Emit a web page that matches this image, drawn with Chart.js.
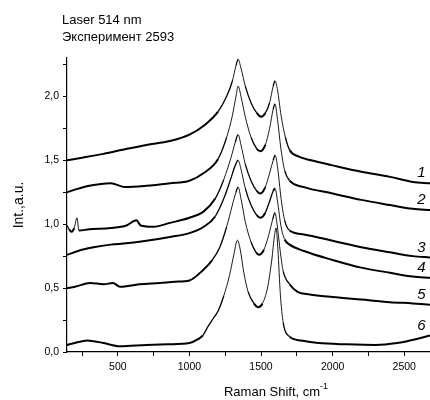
<!DOCTYPE html>
<html>
<head>
<meta charset="utf-8">
<script src="https://cdn.jsdelivr.net/npm/chart.js@4.4.1/dist/chart.umd.min.js"></script>
<style>
html,body{margin:0;padding:0;background:#fff;overflow:hidden;}
</style>
</head>
<body>
<canvas id="raman" width="430" height="400"></canvas>
<script>
// Raman spectra, laser 514 nm, six samples shifted vertically
const headerLines = ['Laser 514 nm', 'Эксперимент 2593'];
const curveNames = ['1', '2', '3', '4', '5', '6'];

const spectrum1 = [[145,1.50],[250,1.52],[400,1.55],[564,1.59],[700,1.62],[864,1.65],[1000,1.70],[1100,1.77],[1200,1.88],[1260,2.00],[1300,2.12],[1325,2.24],[1340,2.29],[1360,2.22],[1390,2.08],[1430,1.95],[1470,1.87],[1500,1.84],[1530,1.87],[1560,1.95],[1585,2.08],[1598,2.12],[1615,2.05],[1640,1.85],[1670,1.68],[1700,1.58],[1760,1.53],[1850,1.50],[2000,1.46],[2200,1.41],[2400,1.37],[2560,1.33],[2680,1.32]];
const spectrum2 = [[145,1.25],[200,1.27],[300,1.30],[450,1.32],[550,1.29],[700,1.30],[864,1.32],[1000,1.34],[1100,1.40],[1200,1.51],[1260,1.68],[1300,1.85],[1325,2.00],[1340,2.08],[1360,2.00],[1390,1.84],[1430,1.68],[1470,1.59],[1495,1.57],[1530,1.62],[1560,1.75],[1585,1.90],[1598,1.94],[1615,1.82],[1640,1.58],[1665,1.42],[1700,1.34],[1800,1.29],[2000,1.24],[2200,1.19],[2400,1.15],[2560,1.12],[2680,1.11]];
const spectrum3 = [[145,0.99],[160,0.96],[175,0.94],[195,0.97],[215,1.05],[228,0.95],[300,0.96],[450,0.97],[560,0.99],[630,1.03],[660,0.99],[750,0.98],[864,1.01],[1000,1.05],[1100,1.10],[1180,1.20],[1240,1.35],[1290,1.52],[1320,1.64],[1340,1.70],[1360,1.62],[1390,1.47],[1430,1.34],[1470,1.26],[1495,1.24],[1530,1.29],[1560,1.40],[1585,1.50],[1598,1.54],[1615,1.45],[1640,1.20],[1665,1.03],[1700,0.95],[1800,0.92],[2000,0.87],[2200,0.82],[2400,0.78],[2560,0.75],[2680,0.74]];
const spectrum4 = [[145,0.76],[250,0.80],[330,0.82],[450,0.84],[560,0.85],[700,0.87],[864,0.90],[1000,0.93],[1100,0.98],[1180,1.06],[1240,1.20],[1290,1.36],[1320,1.46],[1340,1.50],[1360,1.43],[1390,1.28],[1430,1.15],[1470,1.07],[1495,1.05],[1530,1.09],[1560,1.18],[1585,1.26],[1598,1.28],[1615,1.18],[1640,0.98],[1665,0.88],[1700,0.84],[1800,0.79],[2000,0.72],[2200,0.66],[2400,0.62],[2560,0.59],[2680,0.58]];
const spectrum5 = [[145,0.50],[200,0.51],[306,0.54],[400,0.53],[466,0.54],[515,0.51],[650,0.53],[794,0.54],[900,0.55],[1000,0.56],[1094,0.64],[1160,0.72],[1212,0.82],[1260,0.98],[1300,1.15],[1325,1.25],[1340,1.29],[1360,1.20],[1390,1.02],[1430,0.86],[1465,0.78],[1485,0.76],[1520,0.80],[1555,0.92],[1582,1.04],[1597,1.09],[1612,1.00],[1635,0.78],[1655,0.63],[1700,0.53],[1755,0.47],[1840,0.45],[2000,0.43],[2200,0.41],[2400,0.39],[2560,0.38],[2680,0.37]];
const spectrum6 = [[145,0.055],[200,0.07],[285,0.09],[400,0.07],[515,0.045],[700,0.055],[850,0.06],[1000,0.07],[1060,0.10],[1094,0.13],[1130,0.20],[1165,0.26],[1200,0.32],[1240,0.44],[1280,0.60],[1310,0.76],[1335,0.875],[1355,0.80],[1380,0.62],[1410,0.47],[1450,0.38],[1480,0.35],[1510,0.38],[1545,0.50],[1575,0.72],[1595,0.92],[1605,0.97],[1618,0.80],[1635,0.45],[1655,0.23],[1700,0.12],[1780,0.09],[1900,0.07],[2100,0.06],[2300,0.055],[2450,0.07],[2580,0.10],[2680,0.13]];

const spectra = [spectrum1, spectrum2, spectrum3, spectrum4, spectrum5, spectrum6];

const xTickValues = [250,500,750,1000,1250,1500,1750,2000,2250,2500];
const xLabelValues = [500,1000,1500,2000,2500];
const yTickValues = [0,0.25,0.5,0.75,1,1.25,1.5,1.75,2,2.25];
const yLabelValues = [0,0.5,1,1.5,2];

const FONT = '"Liberation Sans", Arial, sans-serif';

// noisy flat parts look thick in the scan, steep peak flanks look thin
function segWidth(c) {
    const dx = Math.abs(c.p1.x - c.p0.x) || 1;
    const dy = Math.abs(c.p1.y - c.p0.y);
    const slope = dy / dx;
    if (slope > 3) return 0.9;
    if (slope > 1.5) return 1.3;
    return 2;
}

const textPlugin = {
    id: 'ramanText',
    afterDraw(chart) {
        const ctx = chart.ctx;
        const xs = chart.scales.x;
        const ys = chart.scales.y;
        ctx.save();
        ctx.fillStyle = '#000';
        ctx.textBaseline = 'alphabetic';
        ctx.textAlign = 'left';
        ctx.font = '13px ' + FONT;
        ctx.fillText(headerLines[0], 62, 24);
        ctx.fillText(headerLines[1], 62, 41);
        // x title with superscript
        const main = 'Raman Shift, cm';
        const w = ctx.measureText(main).width;
        const x0 = 277 - w / 2 - 5;
        ctx.fillText(main, x0, 396);
        ctx.font = '9px ' + FONT;
        ctx.fillText('-1', x0 + w, 389);
        // curve numbers
        ctx.font = 'italic 15px ' + FONT;
        ctx.textAlign = 'center';
        ctx.textBaseline = 'middle';
        spectra.forEach((s, i) => {
            const last = s[s.length - 1];
            ctx.fillText(curveNames[i], xs.getPixelForValue(2620), ys.getPixelForValue(last[1]) - 10);
        });
        ctx.restore();
    }
};

const ctx = document.getElementById('raman').getContext('2d');
const ramanChart = new Chart(ctx, {
    type: 'line',
    data: {
        datasets: spectra.map((s, i) => ({
            label: curveNames[i],
            data: s.map(p => ({x: p[0], y: p[1]})),
            borderColor: '#000',
            borderWidth: 1.5,
            pointRadius: 0,
            cubicInterpolationMode: 'monotone',
            fill: false,
            segment: {borderWidth: segWidth}
        }))
    },
    options: {
        responsive: false,
        animation: false,
        layout: {padding: {top: 58, right: 0, left: 0, bottom: 0}},
        plugins: {legend: {display: false}, tooltip: {enabled: false}},
        scales: {
            x: {
                type: 'linear',
                min: 145,
                max: 2680,
                afterBuildTicks: s => { s.ticks = xTickValues.map(v => ({value: v})); },
                afterFit: s => { s.height = 48; },
                grid: {drawOnChartArea: false, drawTicks: true, tickLength: 4, tickColor: '#000', tickWidth: 1},
                border: {display: true, color: '#000', width: 1.2},
                ticks: {
                    autoSkip: false, maxRotation: 0, padding: 5, color: '#000',
                    font: {family: FONT, size: 10.5},
                    callback: v => xLabelValues.includes(v) ? String(v) : ''
                }
            },
            y: {
                min: 0,
                max: 2.3,
                afterBuildTicks: s => { s.ticks = yTickValues.map(v => ({value: v})); },
                afterFit: s => { s.width = 67; },
                grid: {drawOnChartArea: false, drawTicks: true, tickLength: 4, tickColor: '#000', tickWidth: 1},
                border: {display: true, color: '#000', width: 1.2},
                title: {display: true, text: 'Int.,a.u.', color: '#000', font: {family: FONT, size: 14}, padding: {top: 11, bottom: 0}},
                ticks: {
                    autoSkip: false, padding: 4, color: '#000',
                    font: {family: FONT, size: 10.5},
                    callback: v => yLabelValues.includes(v) ? v.toFixed(1).replace('.', ',') : ''
                }
            }
        }
    },
    plugins: [textPlugin]
});
</script>
</body>
</html>
